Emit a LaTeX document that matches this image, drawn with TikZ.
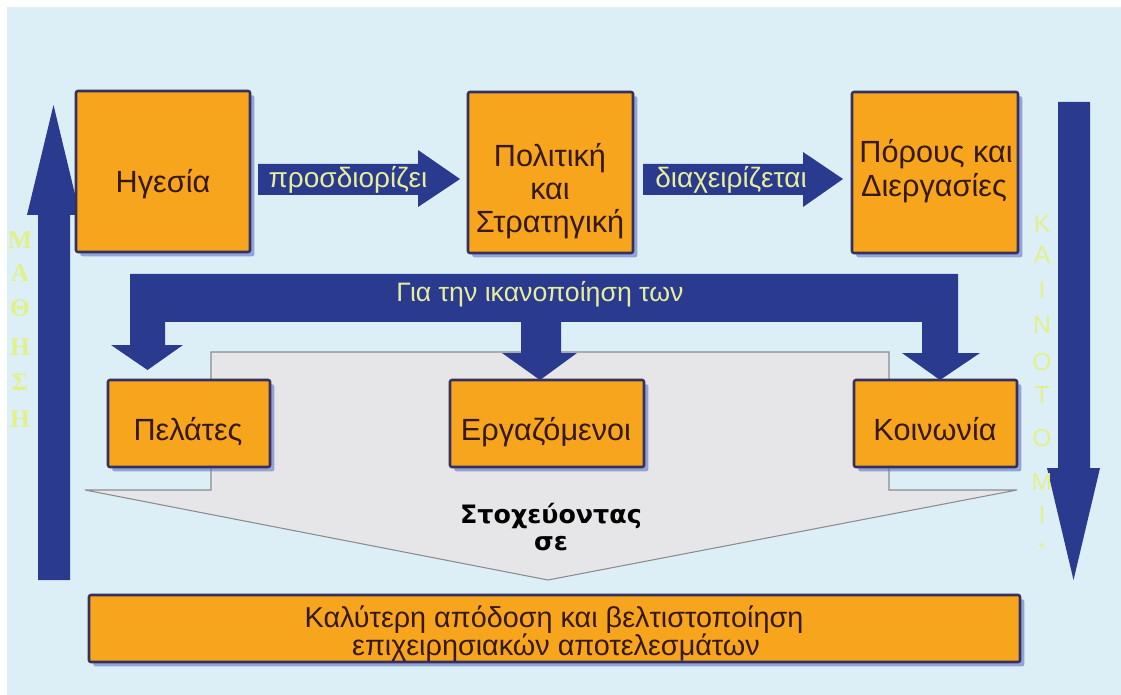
\documentclass[tikz,border=0pt]{standalone}
\usepackage{fontspec}
\setmainfont{Liberation Sans}
\newfontfamily\serifgr{Liberation Serif}
\newfontfamily\boldsans{DejaVu Sans}
\usetikzlibrary{fit}
\definecolor{bgblue}{HTML}{DCEFF6}
\definecolor{navy}{HTML}{2A3A8E}
\definecolor{orangebox}{HTML}{F8A51E}
\definecolor{boxline}{HTML}{36315C}
\definecolor{shadowblue}{HTML}{5F74C8}
\definecolor{boxtext}{HTML}{35190F}
\definecolor{paleyellow}{HTML}{E6EE9C}
\definecolor{lettery}{HTML}{E2F08A}
\definecolor{grayfill}{HTML}{E6E6E8}
\definecolor{grayline}{HTML}{8C8C90}
\begin{document}
\begin{tikzpicture}[x=0.75pt,y=-0.75pt,
  obox/.style={fill=orangebox, draw=boxline, line width=1.9pt, rounded corners=1.5pt, inner sep=0pt,
    preaction={fill=shadowblue, opacity=0.6, transform canvas={shift={(3.2pt,-3.2pt)}}}},
  btext/.style={anchor=base, text=boxtext, font=\fontsize{23}{27}\selectfont, inner sep=0pt},
  atext/.style={anchor=base, text=paleyellow, font=\fontsize{21}{25}\selectfont, inner sep=0pt},
  vletter/.style={text=lettery, inner sep=0pt},
  blockarrow/.style={fill=navy},
  grayshape/.style={fill=grayfill, draw=grayline, line width=0.8pt}]
\useasboundingbox (0,0) rectangle (1121,695);
\fill[white] (0,0) rectangle (1121,695);
\fill[bgblue] (7,7) rectangle (1121,695);

% gray big arrow shape
\draw[grayshape] (211,352) -- (889,352) -- (889,490) -- (1017,490) -- (548,580) -- (85,490) -- (211,490) -- cycle;

% left up arrow (ΜΑΘΗΣΗ)
\fill[blockarrow] (38,580) -- (38,215) -- (27,215) -- (53.5,105) -- (80,215) -- (70,215) -- (70,580) -- cycle;
% right down arrow (ΚΑΙΝΟΤΟΜΙΑ)
\fill[blockarrow] (1058,102) -- (1090,102) -- (1090,468) -- (1100,468) -- (1073.5,580) -- (1047,468) -- (1058,468) -- cycle;

% horizontal arrows
\fill[blockarrow] (258,164) -- (418,164) -- (418,150) -- (460,179) -- (418,207) -- (418,195) -- (258,195) -- cycle;
\fill[blockarrow] (643,164) -- (803,164) -- (803,152) -- (843,179) -- (803,207) -- (803,195) -- (643,195) -- cycle;

% U-shaped distributing arrow
\fill[blockarrow] (130,274) -- (958,274) -- (958,353) -- (980,353) -- (940,380) -- (902,353) -- (922,353)
  -- (922,322) -- (561,322) -- (561,353) -- (577,353) -- (540,380) -- (502,353) -- (521,353)
  -- (521,322) -- (165,322) -- (165,345) -- (183,345) -- (147.5,370) -- (111,345) -- (130,345) -- cycle;

% boxes
\node[obox, fit={(76,91) (250,252)}] (hg) {};
\node[obox, fit={(468,92) (633,253)}] (ps) {};
\node[obox, fit={(852,92) (1018,253)}] (pd) {};
\node[obox, fit={(108,380) (270,467)}] (pel) {};
\node[obox, fit={(450,380) (644,467)}] (erg) {};
\node[obox, fit={(854,380) (1017,467)}] (koi) {};
\node[obox, fit={(89,595) (1020,662)}] (bot) {};

% box texts
\node[btext] (t1) at (163,193) {Ηγεσία};
\node[btext] (t2a) at (550,167) {Πολιτική};
\node[btext] (t2b) at (550,200) {και};
\node[btext] (t2c) at (550,233) {Στρατηγική};
\node[btext] (t3a) at (936,163) {Πόρους και};
\node[btext] (t3b) at (934,197) {Διεργασίες};
\node[btext] (t4) at (188,440) {Πελάτες};
\node[btext] (t5) at (546,440) {Εργαζόμενοι};
\node[btext] (t6) at (935,440) {Κοινωνία};
\node[btext, font=\fontsize{21.6}{25}\selectfont] (t7a) at (554,627) {Καλύτερη απόδοση και βελτιστοποίηση};
\node[btext, font=\fontsize{21.6}{25}\selectfont] (t7b) at (556,655) {επιχειρησιακών αποτελεσμάτων};
\node[btext, text=black, font=\boldsans\bfseries\fontsize{19}{23}\selectfont] (t8a) at (551,523) {Στοχεύοντας};
\node[btext, text=black, font=\boldsans\bfseries\fontsize{19}{23}\selectfont] (t8b) at (551,550) {σε};

% arrow labels
\node[atext] (a1) at (348,188) {προσδιορίζει};
\node[atext] (a2) at (731,188) {διαχειρίζεται};
\node[atext, font=\fontsize{20}{24}\selectfont] (a3) at (540,302) {Για την ικανοποίηση των};

% vertical letters
\foreach \l/\yy [count=\i] in {Μ/240, Α/273, Θ/308, Η/347, Σ/382, Η/419}
  \node[vletter, font=\serifgr\bfseries\fontsize{19}{19}\selectfont] (m\i) at (20,\yy) {\l};
\foreach \l/\yy [count=\i] in {Κ/224, Α/255, Ι/290, Ν/325, Ο/362, Τ/395, Ο/438, Μ/482, Ι/515}
  \node[vletter, font=\fontsize{18.5}{19}\selectfont] (k\i) at (1042,\yy) {\l};
\node[vletter, font=\fontsize{13}{13}\selectfont] (kend) at (1042,549) {*};
\end{tikzpicture}
\end{document}
